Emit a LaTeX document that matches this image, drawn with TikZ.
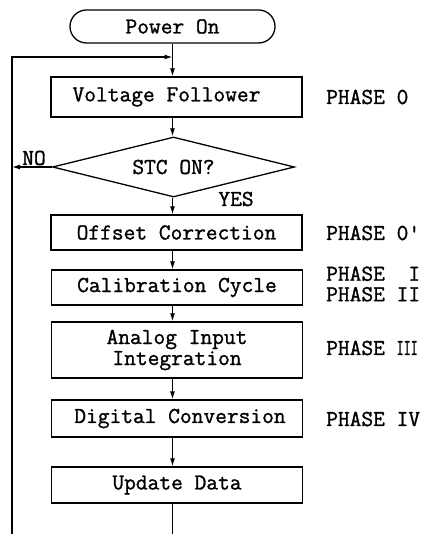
\documentclass[tikz,border=0pt]{standalone}
\usepackage{fontspec}
\usepackage{graphicx}
\setmonofont[FakeBold=1.2]{Latin Modern Mono}
\usetikzlibrary{arrows.meta,shapes.geometric}
\tikzset{
  box/.style={draw, line width=1.3pt, inner sep=0pt, minimum width=251pt, align=center},
  term/.style={draw, line width=1.3pt, inner sep=0pt, minimum width=205pt, minimum height=33pt, rounded corners=16.5pt},
  dec/.style={draw, line width=1.3pt, diamond, inner sep=0pt, minimum width=242pt, minimum height=60pt, shape aspect=4},
  conn/.style={line width=1.2pt},
  arr/.style={line width=1.2pt, -{Latex[length=8pt,width=5pt]}},
  phase/.style={anchor=west, inner sep=0pt, align=left},
  lbl/.style={inner sep=0pt}
}
\begin{document}
\begin{tikzpicture}[x=1pt,y=-1pt,font=\ttfamily\fontsize{22.8}{21}\selectfont]
\useasboundingbox (0,0) rectangle (422,534);
\node[term] (pw) at (172.5,26.5) {Power On\hspace{8pt}};
\node[box, minimum height=40pt] (vf) at (176.5,97) {Voltage Follower\hspace{20pt}};
\node[dec] (stc) at (173.5,167) {STC ON?};
\node[box, minimum height=35pt] (oc) at (176.5,232.5) {Offset Correction};
\node[box, minimum height=35pt] (cc) at (177,287.5) {Calibration Cycle};
\node[box, minimum height=56pt] (ai) at (177,350) {Analog Input\\Integration};
\node[box, minimum height=37pt] (dc) at (177,418.5) {\hspace{6pt}Digital Conversion};
\node[box, minimum height=36pt] (ud) at (177,485) {Update Data};

\node[phase] (p0) at (326,97) {PHASE 0};
\node[phase] (p0b) at (326,233) {PHASE 0'};
\node[phase, font=\ttfamily\fontsize{22.8}{20.5}\selectfont] (p12) at (326,284) {PHASE\ \ I\\PHASE II};
\node[phase] (p3) at (326,348) {PHASE \scalebox{0.6}[1]{III}};
\node[phase] (p4) at (326,419) {PHASE IV};

\node[lbl] (no) at (34,158) {NO};
\node[lbl] (yes) at (236,199) {YES};

\coordinate (lb) at (12,534);
\coordinate (j) at (pw.south |- 0,57);
\coordinate (bot) at (pw.south |- 0,534);

\draw[arr] (lb) |- (j);
\draw[arr] (pw.south) -- (pw.south |- vf.north);
\draw[arr] (pw.south |- vf.south) -- (pw.south |- stc.north);
\draw[arr] (pw.south |- stc.south) -- (pw.south |- oc.north);
\draw[arr] (stc.west) -- (stc.west -| lb);
\draw[arr] (pw.south |- oc.south) -- (pw.south |- cc.north);
\draw[arr] (pw.south |- cc.south) -- (pw.south |- ai.north);
\draw[arr] (pw.south |- ai.south) -- (pw.south |- dc.north);
\draw[arr] (pw.south |- dc.south) -- (pw.south |- ud.north);
\draw[conn] (pw.south |- ud.south) -- (bot);
\end{tikzpicture}
\end{document}
